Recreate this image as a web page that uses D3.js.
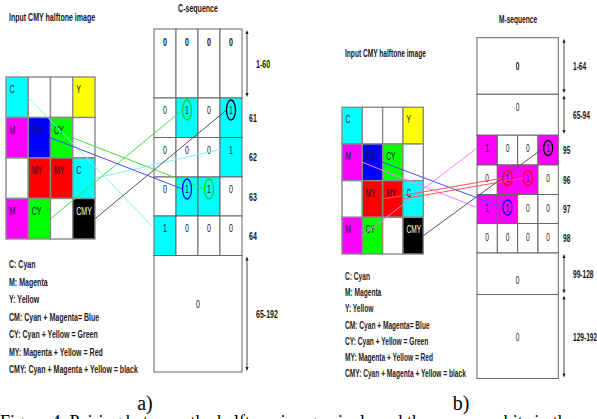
<!DOCTYPE html>
<html>
<head>
<meta charset="utf-8">
<script src="https://cdn.jsdelivr.net/npm/d3@7"></script>
<style>
  html, body { margin: 0; padding: 0; background: #fff; overflow: hidden; }
  svg { display: block; }
</style>
</head>
<body>
<svg id="fig" width="597" height="419"></svg>
<script>
// pixel labels of the 4x4 CMY halftone image (same image in both panels)
const gridLabels = [
  ["C", "", "", "Y"],
  ["M", "CM", "CY", ""],
  ["", "MY", "MY", "C"],
  ["M", "CY", "", "CMY"]
];
const legendLines = [
  "C: Cyan",
  "M: Magenta",
  "Y: Yellow",
  "CM: Cyan + Magenta= Blue",
  "CY: Cyan + Yellow = Green",
  "MY: Magenta + Yellow = Red",
  "CMY: Cyan + Magenta + Yellow = black"
];

// C-sequence rows (a single value = merged block)
const cRowLabels = ["1-60", "61", "62", "63", "64", "65-192"];
const cRowValues = [[0, 0, 0, 0], [0, 1, 0, 1], [0, 0, 0, 1], [0, 1, 1, 0], [1, 0, 0, 0], [0]];
// from: [row, col] in image, to: [row, col] in sequence
const cLinks = [
  { from: [0, 0], to: [4, 0], circled: false },
  { from: [2, 3], to: [2, 3], circled: false },
  { from: [1, 2], to: [3, 2], circled: true },
  { from: [3, 1], to: [1, 1], circled: true },
  { from: [1, 1], to: [3, 1], circled: true },
  { from: [3, 3], to: [1, 3], circled: true }
];

// M-sequence rows
const mRowLabels = ["1-64", "65-94", "95", "96", "97", "98", "99-128", "129-192"];
const mRowValues = [[0], [0], [1, 0, 0, 1], [0, 1, 1, 0], [1, 1, 0, 0], [0, 0, 0, 0], [0], [0]];
const mLinks = [
  { from: [3, 0], to: [2, 0], circled: false },
  { from: [1, 0], to: [4, 0], circled: false },
  { from: [1, 1], to: [4, 1], circled: true },
  { from: [2, 1], to: [3, 1], circled: true },
  { from: [2, 2], to: [3, 2], circled: true },
  { from: [3, 3], to: [2, 3], circled: true }
];

// colours
const fillOf = { C: "#00ffff", M: "#ff00ff", Y: "#ffff00", CM: "#0000ff", CY: "#00ff00", MY: "#ff0000", CMY: "#000000", "": "#ffffff" };
const lineOf = { C: "#7ff5f5", M: "#ff7aff", CM: "#4a4aff", CY: "#3fe03f", MY: "#ff5555", CMY: "#555555" };
const ringOf = { CM: "#0000ff", CY: "#22cc22", MY: "#ff0000", CMY: "#000000" };

const svg = d3.select("#fig");
const SANS = "'Liberation Sans', Arial, sans-serif";

function addText(g, x, y, s, o = {}) {
  return g.append("text")
    .attr("transform", `translate(${x},${y}) scale(${o.sx || 1},1)`)
    .attr("text-anchor", o.anchor || "start")
    .attr("font-family", o.family || SANS)
    .attr("font-size", o.size || 11)
    .attr("font-weight", o.weight || "normal")
    .attr("fill", o.fill || "#151515")
    .text(s);
}

function drawPanel(p) {
  const g = svg.append("g");
  const gx = d3.scaleBand().domain(d3.range(4)).range(p.grid.x);
  const gy = d3.scaleBand().domain(d3.range(4)).range(p.grid.y);
  const tx = d3.scaleBand().domain(d3.range(4)).range(p.table.x);
  const cum = [0, ...d3.cumsum(p.segH)];
  const ty = d3.scaleLinear().domain([0, cum[cum.length - 1]]).range(p.table.y);

  const segs = p.rowLabels.map((label, i) => ({
    label, i,
    values: p.rowValues[i],
    top: ty(cum[i]),
    bottom: ty(cum[i + 1]),
    mid: ty(cum[i]) + p.valueDy[i]
  }));

  // --- halftone image grid
  const cells = gridLabels.flatMap((row, r) => row.map((label, c) => ({ r, c, label })));
  g.append("g").selectAll("rect").data(cells).join("rect")
    .attr("x", d => gx(d.c)).attr("y", d => gy(d.r))
    .attr("width", gx.bandwidth()).attr("height", gy.bandwidth())
    .attr("fill", d => fillOf[d.label])
    .attr("stroke", "#8a8a8a").attr("stroke-width", 1.4);
  cells.filter(d => d.label).forEach(d => {
    addText(g, gx(d.c) + 3.5, gy(d.r) + 16, d.label, {
      sx: p.sx, fill: d.label === "CMY" ? "#fff" : "#15153a"
    });
  });

  // --- sequence table
  const tcells = segs.filter(s => s.values.length === 4)
    .flatMap(s => s.values.map((v, c) => ({ s, c, v })));
  g.append("g").selectAll("rect").data(tcells).join("rect")
    .attr("x", d => tx(d.c)).attr("y", d => d.s.top)
    .attr("width", tx.bandwidth()).attr("height", d => d.s.bottom - d.s.top)
    .attr("fill", d => d.v ? p.seqFill : "#fff")
    .attr("stroke", "#666").attr("stroke-width", 1);
  const blocks = segs.filter(s => s.values.length === 1);
  g.append("g").selectAll("rect").data(blocks).join("rect")
    .attr("x", p.table.x[0]).attr("y", d => d.top)
    .attr("width", p.table.x[1] - p.table.x[0]).attr("height", d => d.bottom - d.top)
    .attr("fill", "#fff")
    .attr("stroke", "#666").attr("stroke-width", 1);

  tcells.forEach(d => {
    addText(g, tx(d.c) + tx.bandwidth() / 2, d.s.mid + 4, String(d.v), {
      sx: p.sx, anchor: "middle", weight: d.s.i === 0 ? "bold" : "normal"
    });
  });
  blocks.forEach(d => {
    addText(g, (p.table.x[0] + p.table.x[1]) / 2, d.mid + 4, String(d.values[0]), {
      sx: p.sx, anchor: "middle", weight: d.i === 0 ? "bold" : "normal"
    });
  });

  // --- row labels and range arrows
  segs.forEach(s => {
    const isRange = s.label.includes("-");
    addText(g, isRange ? p.rangeLabelX : p.rowLabelX, (s.top + s.bottom) / 2 + 4, s.label, {
      sx: p.sx, weight: "bold"
    });
    if (isRange) {
      const x = p.arrowX, y0 = s.top + 1, y1 = s.bottom - 1;
      g.append("line").attr("x1", x).attr("x2", x).attr("y1", y0 + 2).attr("y2", y1 - 2)
        .attr("stroke", "#333").attr("stroke-width", 0.9);
      g.append("path")
        .attr("d", `M${x},${y0}L${x - 1.6},${y0 + 4}L${x + 1.6},${y0 + 4}Z M${x},${y1}L${x - 1.6},${y1 - 4}L${x + 1.6},${y1 - 4}Z`)
        .attr("fill", "#222");
    }
  });

  // --- links from image pixels to sequence bits
  const [rx, ry] = p.ringR;
  p.links.forEach(l => {
    const src = gridLabels[l.from[0]][l.from[1]];
    const s = segs[l.to[0]];
    const cx = tx(l.to[1]) + tx.bandwidth() / 2;
    const x1 = gx(l.from[1]) + gx.bandwidth();
    const y1 = gy(l.from[0]) + gy.bandwidth() / 2;
    const x2 = l.circled ? cx - rx : tx(l.to[1]);
    const y2 = s.mid;
    if (l.circled) {
      g.append("ellipse").attr("cx", cx).attr("cy", s.mid).attr("rx", rx).attr("ry", ry)
        .attr("fill", "none").attr("stroke", ringOf[src]).attr("stroke-width", 1.3);
    }
    g.append("line").attr("x1", x1).attr("y1", y1).attr("x2", x2).attr("y2", y2)
      .attr("stroke", lineOf[src]).attr("stroke-width", 1);
  });

  // --- titles, legend, panel tag
  addText(g, p.title[0], p.title[1], "Input CMY halftone image", { sx: p.sx, weight: "bold" });
  addText(g, p.seqTitle[0], p.seqTitle[1], p.seqName, { sx: p.sx, weight: "bold", anchor: "middle" });
  legendLines.forEach((s, i) => {
    addText(g, p.legend[0], p.legend[1] + i * p.legend[2], s, { sx: p.sx, weight: "bold", fill: "#222" });
  });
  addText(g, p.tag[0], p.tag[1], p.tagText, {
    anchor: "middle", family: "'Liberation Serif', 'Times New Roman', serif", size: 20, fill: "#000"
  });
}

drawPanel({
  grid: { x: [6, 95], y: [77, 239] },
  table: { x: [154, 242], y: [29, 372] },
  segH: [69, 39.5, 39.5, 39, 39.5, 116.5],
  valueDy: [13, 12, 12, 12, 12, 48],
  rowLabels: cRowLabels, rowValues: cRowValues, links: cLinks,
  rowLabelX: 249, rangeLabelX: 256, arrowX: 247,
  ringR: [4.5, 10], seqFill: "#00ffff", sx: 0.64,
  title: [9, 21], seqTitle: [198, 11.5], seqName: "C-sequence",
  legend: [9, 268, 17.5], tag: [145, 410], tagText: "a)"
});

drawPanel({
  grid: { x: [342, 423.3], y: [107.3, 254] },
  table: { x: [477, 558.3], y: [37.7, 378.5] },
  segH: [56.6, 40.7, 30, 29.5, 29, 29.5, 41.5, 84],
  valueDy: [28, 13, 13, 13, 13, 13, 27, 42],
  rowLabels: mRowLabels, rowValues: mRowValues, links: mLinks,
  rowLabelX: 563, rangeLabelX: 573, arrowX: 564,
  ringR: [4.5, 7.5], seqFill: "#ff00ff", sx: 0.6,
  title: [345, 57], seqTitle: [518, 22.5], seqName: "M-sequence",
  legend: [345, 280, 16.2], tag: [461, 410], tagText: "b)"
});

// figure caption, cut by the bottom edge
addText(svg, 0, 428, "Figure 4.   Pairing between the halftone image pixels and the sequence bits in the embedding", {
  family: "'Liberation Serif', 'Times New Roman', serif", size: 18, fill: "#000"
});
</script>
</body>
</html>
